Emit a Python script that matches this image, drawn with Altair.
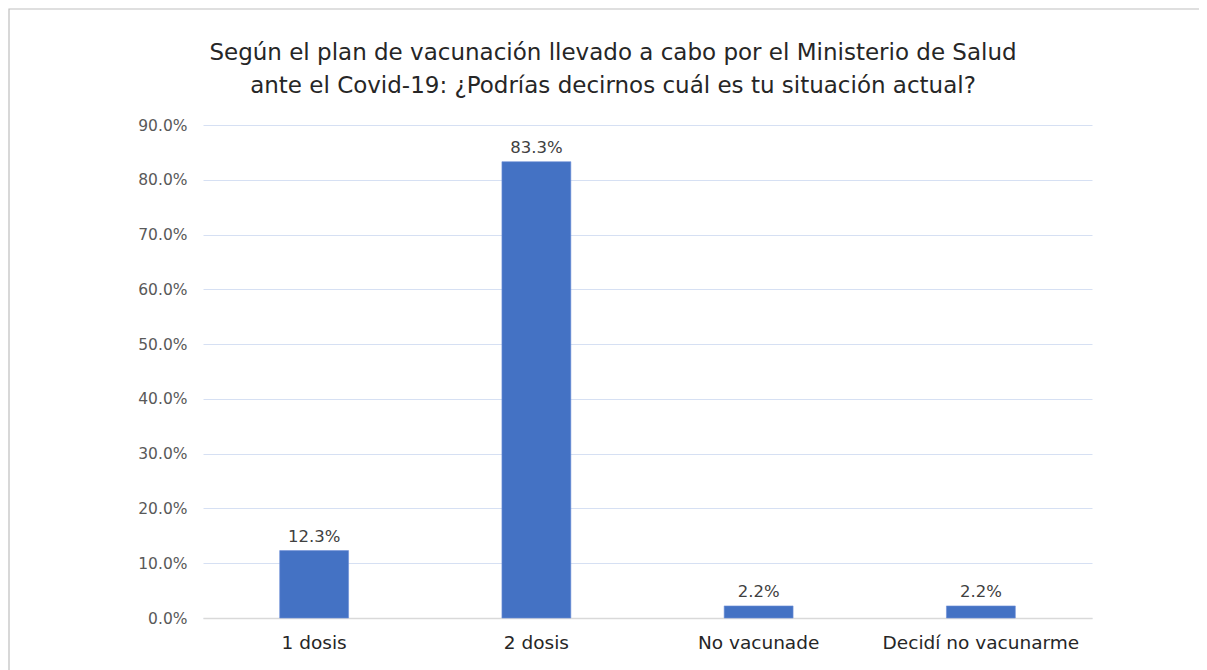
import altair as alt
import pandas as pd

categories = ["1 dosis", "2 dosis", "No vacunade", "Decidí no vacunarme"]
values = [0.123, 0.833, 0.022, 0.022]
labels = ["12.3%", "83.3%", "2.2%", "2.2%"]
title_lines = [
    "Según el plan de vacunación llevado a cabo por el Ministerio de Salud",
    "ante el Covid-19: ¿Podrías decirnos cuál es tu situación actual?",
]

df = pd.DataFrame({"cat": categories, "val": values, "lab": labels})
FONT = "DejaVu Sans"

x = alt.X("cat:N", sort=categories, title=None,
          scale=alt.Scale(paddingInner=0.69, paddingOuter=0.345),
          axis=alt.Axis(labelAngle=0, labelFontSize=18.5, labelColor="#262626",
                        labelFont=FONT, ticks=False, domain=True, labelLimit=0,
                        domainColor="#D9D9D9", domainWidth=1.5, labelPadding=15))
y = alt.Y("val:Q", title=None,
          scale=alt.Scale(domain=[0, 0.9], nice=False),
          axis=alt.Axis(format=".1%", values=[i / 10 for i in range(10)],
                        labelFontSize=15.5, labelColor="#595959", labelFont=FONT,
                        ticks=False, domain=False, gridColor="#D6E0F3",
                        gridWidth=1, labelPadding=16))

base = alt.Chart(df)
border = alt.Chart(pd.DataFrame({"a": [0]})).mark_rect(
    fill=None, stroke="#BFBFBF", strokeWidth=1.2, clip=False
).encode(x=alt.value(-194), x2=alt.value(1015), y=alt.value(-116), y2=alt.value(570))

t1 = alt.Chart(pd.DataFrame({"t": [title_lines[0]]})).mark_text(
    fontSize=23, font=FONT, color="#262626", align="center", baseline="middle"
).encode(x=alt.value(410), y=alt.value(-72), text="t:N")
t2 = alt.Chart(pd.DataFrame({"t": [title_lines[1]]})).mark_text(
    fontSize=23, font=FONT, color="#262626", align="center", baseline="middle"
).encode(x=alt.value(410), y=alt.value(-39), text="t:N")

bars = base.mark_bar(color="#4472C4", stroke="#6C8FD6", strokeWidth=0.6).encode(x=x, y=y)
text = base.mark_text(baseline="bottom", dy=-6, fontSize=16.5, color="#404040",
                      font=FONT).encode(x=x, y=y, text="lab:N")

chart = alt.layer(border, t1, t2, bars, text).properties(
    width=889, height=493,
    padding={"left": 195, "top": 117, "right": 107, "bottom": 52},
    autosize=alt.AutoSizeParams(type="none"),
).configure_view(stroke=None)

chart.save("out.html", embed_options={"renderer": "svg", "actions": False})
